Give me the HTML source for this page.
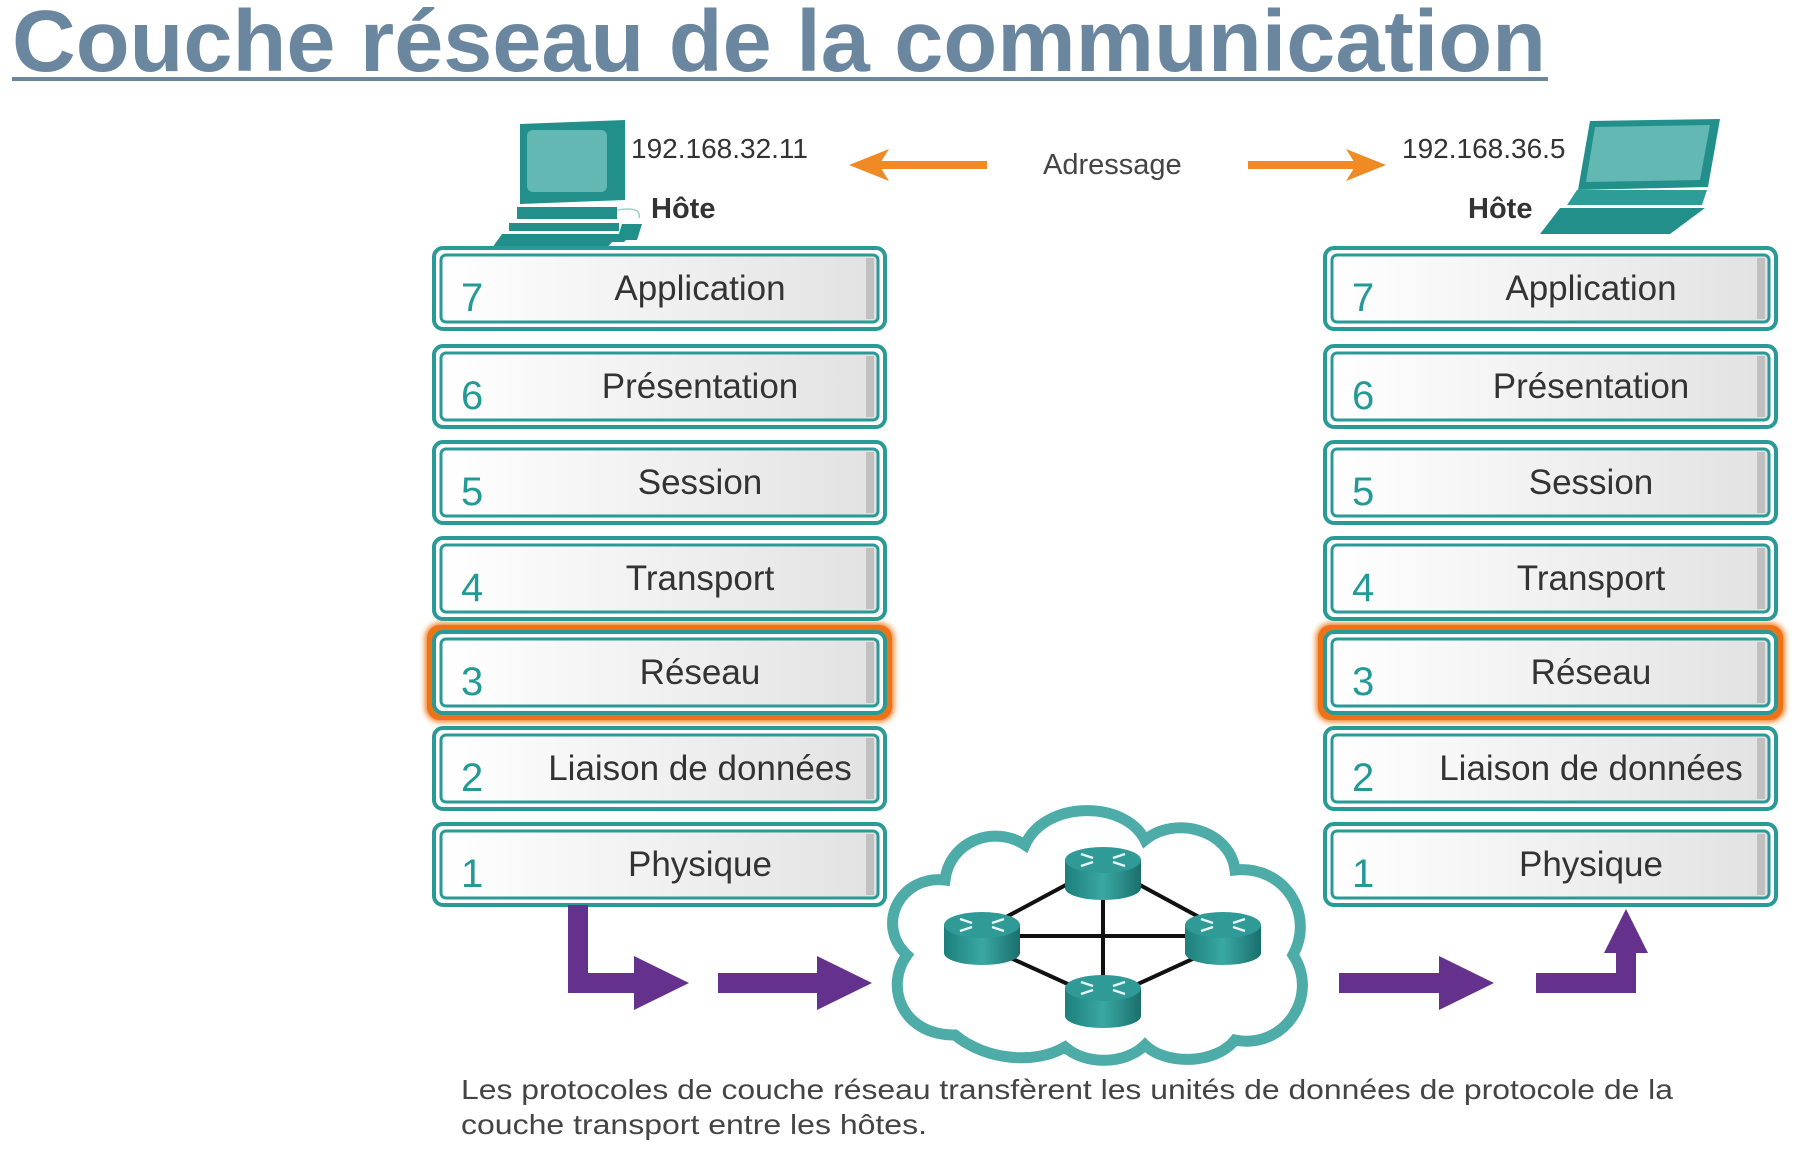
<!DOCTYPE html>
<html><head><meta charset="utf-8"><style>
html,body{margin:0;padding:0;background:#fff;}
svg{display:block;font-family:"Liberation Sans",Arial,sans-serif;}
</style></head><body>
<svg width="1804" height="1159" viewBox="0 0 1804 1159" xmlns="http://www.w3.org/2000/svg">
<defs>
<linearGradient id="bx" x1="0" y1="0" x2="1" y2="0">
<stop offset="0" stop-color="#ffffff"/><stop offset="1" stop-color="#e2e2e2"/></linearGradient>
<linearGradient id="rt" x1="0" y1="0" x2="1" y2="0">
<stop offset="0" stop-color="#1d7f7c"/><stop offset="0.5" stop-color="#3aa8a3"/><stop offset="1" stop-color="#1a6f6c"/></linearGradient>
<filter id="glow" x="-10%" y="-30%" width="120%" height="160%"><feGaussianBlur stdDeviation="3"/></filter>
<g id="router">
<path d="M-38,0 v28 a38,12 0 0 0 76,0 v-28 z" fill="url(#rt)"/>
<ellipse cx="0" cy="0" rx="38" ry="13" fill="#2f9a96"/>
<path d="M-22,-6 l12,4 M22,-6 l-12,4 M-22,6 l12,-4 M22,6 l-12,-4" stroke="#e8f6f5" stroke-width="2.5"/>
</g>
<g id="box">
<rect x="0" y="0" width="451" height="81" rx="9" fill="#fff" stroke="#2a9a96" stroke-width="4"/>
<rect x="7" y="7" width="437" height="67" rx="5" fill="url(#bx)" stroke="#2a9a96" stroke-width="3"/>
<rect x="432" y="10" width="8" height="61" fill="#aaa" opacity="0.6"/>
</g>
</defs>

<text x="12" y="71" font-size="87" font-weight="bold" fill="#6b87a0" textLength="1534" lengthAdjust="spacingAndGlyphs">Couche réseau de la communication</text>
<rect x="12" y="77" width="1536" height="4" fill="#6b87a0"/>

<!-- desktop -->
<g fill="#238f8b">
<path d="M520,124 l105,-4 v80 l-105,4 z"/>
<rect x="527" y="130" width="80" height="62" rx="6" fill="#63b8b4"/>
<path d="M517,207 h100 v12 h-100 z"/>
<path d="M509,223 h110 v8 h-110 z"/>
<path d="M502,234 h130 l-8,8 h-12 l-5,6 h-115 z"/>
<path d="M622,224 h20 l-5,16 h-20 z"/>
</g>
<path d="M617,210 q25,-4 22,8" stroke="#9fd0cd" fill="none" stroke-width="1.5"/>
<text x="631" y="158" font-size="28" fill="#333">192.168.32.11</text>
<text x="651" y="218" font-size="29" font-weight="bold" fill="#333">Hôte</text>

<!-- laptop -->
<g fill="#238f8b">
<path d="M1590,121 l130,-2 l-12,68 l-130,3 z"/>
<path d="M1595,127 l115,-2 l-10,55 l-114,2 z" fill="#63b8b4"/>
<path d="M1577,190 h130 l-5,15 h-135 z" fill="#2e9c97"/>
<path d="M1560,208 h145 l-35,26 h-130 z"/>
</g>
<text x="1402" y="158" font-size="28" fill="#333">192.168.36.5</text>
<text x="1468" y="218" font-size="29" font-weight="bold" fill="#333">Hôte</text>

<text x="1043" y="174" font-size="29" fill="#444">Adressage</text>
<g fill="#f08a24">
<rect x="877" y="161" width="110" height="8"/><path d="M849,165 l40,-16 l-10,16 l10,16 z"/>
<rect x="1248" y="161" width="110" height="8"/><path d="M1386,165 l-40,-16 l10,16 l-10,16 z"/>
</g>

<!-- orange highlight -->
<rect x="430" y="628" width="459" height="89" rx="10" fill="none" stroke="#f07a1c" stroke-width="10" filter="url(#glow)"/>
<rect x="430" y="628" width="459" height="89" rx="10" fill="none" stroke="#ee7318" stroke-width="6"/>
<rect x="1321" y="628" width="459" height="89" rx="10" fill="none" stroke="#f07a1c" stroke-width="10" filter="url(#glow)"/>
<rect x="1321" y="628" width="459" height="89" rx="10" fill="none" stroke="#ee7318" stroke-width="6"/>

<g font-size="35" fill="#333" text-anchor="middle">
<use href="#box" x="434" y="248"/><use href="#box" x="434" y="346"/><use href="#box" x="434" y="442"/><use href="#box" x="434" y="538"/><use href="#box" x="434" y="632"/><use href="#box" x="434" y="728"/><use href="#box" x="434" y="824"/>
<use href="#box" x="1325" y="248"/><use href="#box" x="1325" y="346"/><use href="#box" x="1325" y="442"/><use href="#box" x="1325" y="538"/><use href="#box" x="1325" y="632"/><use href="#box" x="1325" y="728"/><use href="#box" x="1325" y="824"/>
<text x="700" y="300">Application</text><text x="700" y="398">Présentation</text><text x="700" y="494">Session</text><text x="700" y="590">Transport</text><text x="700" y="684">Réseau</text><text x="700" y="780">Liaison de données</text><text x="700" y="876">Physique</text>
<text x="1591" y="300">Application</text><text x="1591" y="398">Présentation</text><text x="1591" y="494">Session</text><text x="1591" y="590">Transport</text><text x="1591" y="684">Réseau</text><text x="1591" y="780">Liaison de données</text><text x="1591" y="876">Physique</text>
</g>
<g font-size="40" fill="#239a95">
<text x="461" y="311">7</text><text x="461" y="409">6</text><text x="461" y="505">5</text><text x="461" y="601">4</text><text x="461" y="695">3</text><text x="461" y="791">2</text><text x="461" y="887">1</text>
<text x="1352" y="311">7</text><text x="1352" y="409">6</text><text x="1352" y="505">5</text><text x="1352" y="601">4</text><text x="1352" y="695">3</text><text x="1352" y="791">2</text><text x="1352" y="887">1</text>
</g>

<!-- cloud -->
<path d="M955,1035 C900,1035 885,985 907,955 C875,925 900,875 945,880 C950,840 995,825 1025,845 C1045,800 1125,800 1145,840 C1175,815 1230,830 1235,870 C1285,865 1315,915 1293,955 C1320,995 1285,1050 1235,1040 C1215,1065 1165,1065 1145,1045 C1125,1065 1085,1065 1065,1047 C1035,1065 985,1060 955,1035 Z" fill="#fff" stroke="#3aa29e" stroke-width="11" stroke-opacity="0.9"/>
<g stroke="#111" stroke-width="4">
<line x1="1103" y1="865" x2="982" y2="930"/><line x1="1103" y1="865" x2="1223" y2="930"/>
<line x1="982" y1="945" x2="1103" y2="1000"/><line x1="1223" y1="945" x2="1103" y2="1000"/>
<line x1="1103" y1="870" x2="1103" y2="1000"/><line x1="982" y1="936" x2="1223" y2="936"/>
</g>
<use href="#router" x="1103" y="860"/>
<use href="#router" x="982" y="925"/>
<use href="#router" x="1223" y="925"/>
<use href="#router" x="1103" y="988"/>

<!-- purple arrows -->
<g fill="#64318c">
<path d="M568,905 h20 v68 h46 v-17 l55,27 l-55,27 v-17 h-66 z"/>
<path d="M718,973 h99 v-17 l55,27 l-55,27 v-17 h-99 z"/>
<path d="M1339,973 h100 v-17 l55,27 l-55,27 v-17 h-100 z"/>
<path d="M1536,973 h80 v-20 h-12 l22,-44 l22,44 h-12 v40 h-100 z"/>
</g>

<text x="461" y="1099" font-size="28" fill="#444" textLength="1212" lengthAdjust="spacingAndGlyphs">Les protocoles de couche réseau transfèrent les unités de données de protocole de la</text>
<text x="461" y="1134" font-size="28" fill="#444" textLength="466" lengthAdjust="spacingAndGlyphs">couche transport entre les hôtes.</text>
</svg>
</body></html>
